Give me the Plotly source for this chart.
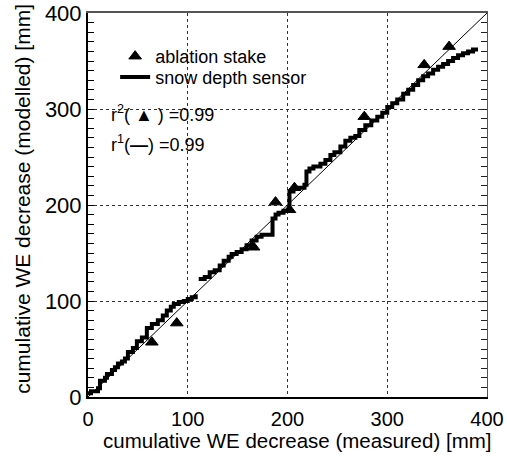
import plotly.graph_objects as go

# ablation stake measurements (measured, modelled) [mm]
stake_measured = [64, 89, 166, 188, 202, 207, 277, 337, 362]
stake_modelled = [57, 77, 156, 203, 195, 218, 292, 346, 365]

# snow depth sensor, first segment
sensor1_measured = [0, 3, 10, 12, 17, 19, 24, 27, 30, 34, 37, 40, 45, 49, 54, 59, 64, 70, 75, 79, 83, 86, 91, 96, 100, 104, 108]
sensor1_modelled = [4, 6, 9, 17, 20, 24, 28, 31, 35, 37, 40, 47, 51, 58, 62, 72, 76, 80, 85, 90, 94, 97, 99, 100, 102, 104, 107]

# snow depth sensor, second segment
sensor2_measured = [111, 117, 122, 127, 132, 136, 141, 144, 149, 154, 159, 164, 169, 174, 185, 188, 191, 196, 202, 206,
                    211, 217, 219, 222, 226, 233, 238, 243, 247, 253, 258, 263, 268, 272, 278, 284, 290, 295, 300, 305,
                    310, 316, 321, 326, 331, 336, 341, 346, 351, 356, 361, 366, 371, 376, 381, 386, 389]
sensor2_modelled = [123, 125, 130, 132, 137, 142, 146, 149, 151, 154, 158, 163, 167, 169, 186, 190, 192, 194, 214, 217,
                    218, 221, 235, 238, 240, 243, 247, 252, 255, 261, 267, 270, 272, 278, 283, 288, 292, 296, 302, 306,
                    310, 316, 320, 325, 330, 334, 337, 341, 344, 347, 350, 353, 356, 358, 360, 362, 364]

one_to_one = [0, 400]
tick_vals = [0, 100, 200, 300, 400]
tick_text = ["0", "100", "200", "300", "400"]

x_title = "cumulative WE decrease (measured) [mm]"
y_title = "cumulative WE decrease (modelled) [mm]"
stats_stake = "r<sup>2</sup>( ▲ ) =0.99"
stats_sensor = "r<sup>1</sup>(<b>—</b>) =0.99"

FONT = "Liberation Sans, Arial, sans-serif"

fig = go.Figure()

fig.add_trace(go.Scatter(x=one_to_one, y=one_to_one, mode="lines",
                         line=dict(color="black", width=1), showlegend=False, hoverinfo="skip"))

sensor_x = sensor1_measured + [None] + sensor2_measured
sensor_y = sensor1_modelled + [None] + sensor2_modelled

fig.add_trace(go.Scatter(x=stake_measured, y=stake_modelled, mode="markers", name="ablation stake",
                         legend="legend",
                         marker=dict(symbol="triangle-up", size=11, color="black",
                                     line=dict(color="black", width=1))))
fig.add_trace(go.Scatter(x=sensor_x, y=sensor_y, mode="lines", name="snow depth sensor",
                         legend="legend2",
                         line=dict(color="black", width=4, shape="hv"), connectgaps=False))

# frame axes (top / right)
fig.add_trace(go.Scatter(x=[], y=[], xaxis="x2", yaxis="y2", showlegend=False, hoverinfo="skip"))

legend_common = dict(xanchor="left", yanchor="top", bgcolor="rgba(0,0,0,0)", font=dict(size=18))

fig.update_layout(
    width=507, height=457,
    margin=dict(l=88, r=20, t=13, b=60, autoexpand=False),
    paper_bgcolor="white", plot_bgcolor="white",
    font=dict(family=FONT, color="black"),
    xaxis=dict(range=[0, 400], showline=True, linecolor="black", linewidth=2, ticks="",
               tickvals=tick_vals, ticktext=tick_text, tickfont=dict(size=20), automargin=False,
               ticklabelstandoff=3,
               showgrid=True, gridcolor="#333", gridwidth=1, griddash="dot", zeroline=False),
    yaxis=dict(range=[0, 400], showline=True, linecolor="black", linewidth=2,
               ticks="inside", ticklen=6, tickwidth=1, tickcolor="black", automargin=False,
               tickvals=tick_vals, ticktext=tick_text, tickfont=dict(size=22),
               minor=dict(dtick=10, ticks="inside", ticklen=6, tickwidth=1, tickcolor="black", showgrid=False),
               showgrid=True, gridcolor="#333", gridwidth=1, griddash="dot", zeroline=False),
    xaxis2=dict(range=[0, 400], overlaying="x", side="top", showline=True, linecolor="#555", linewidth=2,
                showticklabels=False, ticks="", showgrid=False, zeroline=False, automargin=False),
    yaxis2=dict(range=[0, 400], overlaying="y", side="right", showline=True, linecolor="#555", linewidth=1,
                showticklabels=False, ticks="inside", ticklen=6, tickwidth=1, tickcolor="#222",
                tickvals=tick_vals, automargin=False,
                minor=dict(dtick=10, ticks="inside", ticklen=6, tickwidth=1, tickcolor="#222", showgrid=False),
                showgrid=False, zeroline=False),
    legend=dict(x=0.068, y=0.935, **legend_common),
    legend2=dict(x=0.068, y=0.881, **legend_common),
    annotations=[
        dict(text=x_title, xref="paper", yref="paper", x=0.5226, y=-0.113,
             xanchor="center", yanchor="middle", showarrow=False, font=dict(size=20.5)),
        dict(text=y_title, xref="paper", yref="paper", x=-0.163, y=0.516, textangle=-90,
             xanchor="center", yanchor="middle", showarrow=False, font=dict(size=21)),
        dict(text=stats_stake, xref="paper", yref="paper", x=0.053, y=0.737,
             xanchor="left", yanchor="middle", showarrow=False, font=dict(size=18)),
        dict(text=stats_sensor, xref="paper", yref="paper", x=0.053, y=0.659,
             xanchor="left", yanchor="middle", showarrow=False, font=dict(size=18)),
    ],
)

fig.write_html("out.html", config={"displayModeBar": False},
               post_script="document.body.style.margin='0px';")
